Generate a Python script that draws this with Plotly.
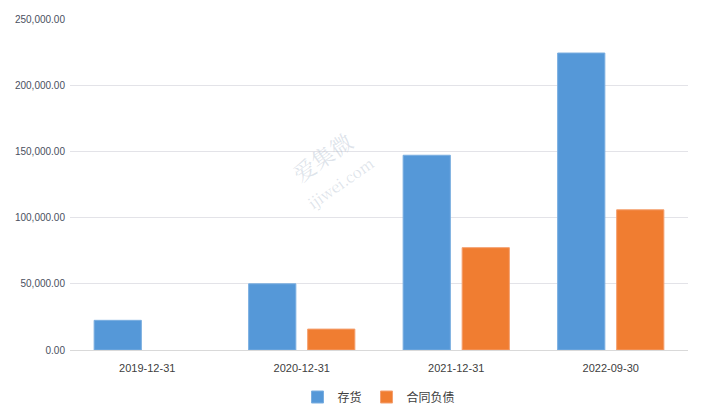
import plotly.graph_objects as go

# data
dates = ["2019-12-31", "2020-12-31", "2021-12-31", "2022-09-30"]
inventory = [22400, 50000, 147100, 224300]          # 存货
contract_liab = [None, 15800, 77300, 105900]         # 合同负债
y_ticks = [0, 50000, 100000, 150000, 200000, 250000]

fig = go.Figure()
fig.add_trace(go.Bar(
    x=dates, y=inventory, name="存货",
    marker=dict(color="#5598d8", line=dict(color="#7aaee0", width=1)),
))
fig.add_trace(go.Bar(
    x=dates, y=contract_liab, name="合同负债",
    marker=dict(color="#f07d31", line=dict(color="#f4a070", width=1)),
))

# faint site watermark
fig.add_annotation(
    x=0.42, y=0.55, xref="paper", yref="paper",
    text="爱集微<br><span style='font-size:15px'>ijiwei.com</span>",
    showarrow=False, textangle=-35,
    font=dict(size=22, color="rgba(160,175,195,0.35)", family="Noto Serif CJK SC, Noto Sans CJK SC"),
)

# page has an 8px body margin, so margins are offset by that
fig.update_layout(
    width=702, height=420,
    paper_bgcolor="white", plot_bgcolor="white",
    margin=dict(l=62, r=22, t=11, b=78, autoexpand=False),
    barmode="group", bargap=0.236, bargroupgap=0.2,
    font=dict(family="Liberation Sans, Noto Sans CJK SC", size=11, color="#595959"),
    showlegend=True,
    legend=dict(
        orientation="h", x=0.5, xanchor="center", y=-0.142, yanchor="middle",
        font=dict(size=12, family="Noto Sans CJK SC", color="#404040"),
        itemwidth=30, tracegroupgap=0,
    ),
)
fig.update_xaxes(
    type="category",
    showgrid=False, showline=True, linecolor="#d9d9d9", linewidth=1,
    ticks="", tickfont=dict(size=11, color="#404040"), ticklabelstandoff=8,
)
fig.update_yaxes(
    range=[0, 250000], tickvals=y_ticks,
    tickformat=",.2f", showgrid=True, gridcolor="#e3e3e8", gridwidth=1,
    zeroline=False, ticks="", ticklabelstandoff=4,
    tickfont=dict(size=10, color="#4a5060"),
)

fig.write_html("out.html")
